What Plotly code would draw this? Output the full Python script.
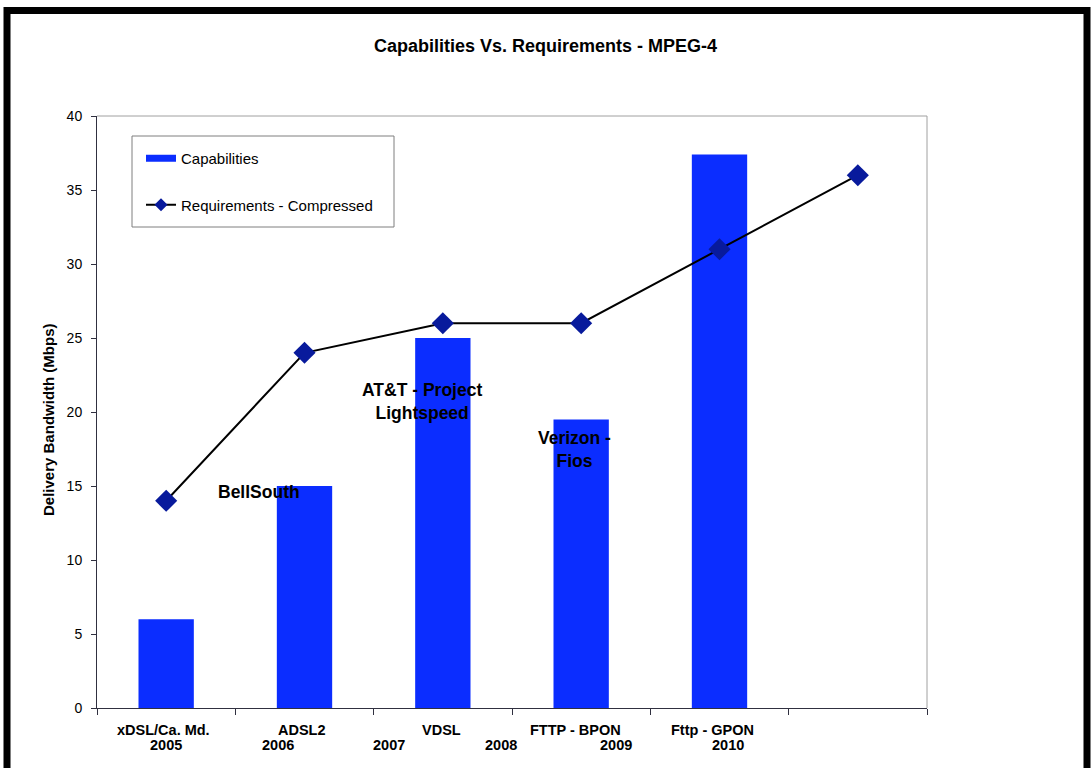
import plotly.graph_objects as go

# Technology generations along the x axis (index 5 is an empty slot at the end)
tech_names = ["xDSL/Ca. Md.", "ADSL2", "VDSL", "FTTP - BPON", "Fttp - GPON"]
years = ["2005", "2006", "2007", "2008", "2009", "2010"]

# Series values (Mbps)
capabilities = [6, 15, 25, 19.5, 37.4]
requirements = [14, 24, 26, 26, 31, 36]

# Provider callouts
providers = ["BellSouth", "AT&T - Project<br>Lightspeed", "Verizon -<br>Fios"]

y_ticks = [0, 5, 10, 15, 20, 25, 30, 35, 40]

BAR_BLUE = "#0b2dff"
NAVY = "#081a9c"
FONT = "Liberation Sans, Arial, sans-serif"

W, H = 1091, 768
ML, MR, MT, MB = 97, 164, 116, 60
PW, PH = W - ML - MR, H - MT - MB


def px_x(p):
    return (p - ML) / PW


def px_y(q):
    return (H - MB - q) / PH


fig = go.Figure()

fig.add_trace(go.Bar(
    x=list(range(len(capabilities))), y=capabilities,
    width=0.4, marker=dict(color=BAR_BLUE, line=dict(width=0)),
    name="Capabilities", showlegend=False,
))
fig.add_trace(go.Scatter(
    x=list(range(len(requirements))), y=requirements,
    mode="lines+markers", name="Requirements - Compressed", showlegend=False,
    line=dict(color="black", width=2),
    marker=dict(symbol="diamond", size=17, color=NAVY),
))

# Legend entries (wide swatch for the bars, small diamond for the line)
fig.add_trace(go.Scatter(
    x=[None], y=[None], mode="lines", name="Capabilities", legendgroup="a",
    line=dict(color=BAR_BLUE, width=7),
))
fig.add_trace(go.Scatter(
    x=[None], y=[None], mode="lines+markers", name="Requirements - Compressed",
    legendgroup="b", line=dict(color="black", width=2),
    marker=dict(symbol="diamond", size=10, color=NAVY),
))

base = dict(family=FONT, color="black")
annotations = []

# Two-row category labels below the axis
name_pos = [-0.02, 0.98, 1.99, 2.96, 3.95]
year_pos = [0.0, 0.81, 1.61, 2.42, 3.25, 4.06]
for t, xv in zip(tech_names, name_pos):
    annotations.append(dict(x=xv, y=0, xref="x", yref="y", text="<b>%s</b>" % t,
                            showarrow=False, yanchor="middle", yshift=-22,
                            font=dict(size=14.5, **base)))
for t, xv in zip(years, year_pos):
    annotations.append(dict(x=xv, y=0, xref="x", yref="y", text="<b>%s</b>" % t,
                            showarrow=False, yanchor="middle", yshift=-37,
                            font=dict(size=14.5, **base)))

prov_pos = [(0.67, 14.6), (1.85, 20.7), (2.95, 17.5)]
for t, (xv, yv) in zip(providers, prov_pos):
    annotations.append(dict(x=xv, y=yv, xref="x", yref="y", text="<b>%s</b>" % t,
                            showarrow=False, font=dict(size=17.5, **base)))

# Chart title
annotations.append(dict(x=px_x(545), y=px_y(46), xref="paper", yref="paper",
                        xanchor="center", yanchor="middle",
                        text="<b>Capabilities Vs. Requirements - MPEG-4</b>",
                        showarrow=False, font=dict(size=18, **base)))

# Y axis title
annotations.append(dict(x=px_x(48), y=px_y(420), xref="paper", yref="paper",
                        xanchor="center", yanchor="middle",
                        text="<b>Delivery Bandwidth (Mbps)</b>", textangle=-90,
                        showarrow=False, font=dict(size=15, **base)))

shapes = [
    # outer frame of the chart sheet
    dict(type="rect", xref="paper", yref="paper",
         x0=px_x(7), x1=px_x(1087), y0=px_y(800), y1=px_y(10.5),
         line=dict(color="black", width=7)),
    # legend frame
    dict(type="rect", xref="paper", yref="paper",
         x0=px_x(132), x1=px_x(394), y0=px_y(227), y1=px_y(136),
         line=dict(color="#7f7f7f", width=1), fillcolor="white", layer="below"),
    # plot-area frame (top and right)
    dict(type="line", xref="paper", yref="paper", x0=0, x1=1, y0=1, y1=1,
         line=dict(color="#a0a0a0", width=1)),
    dict(type="line", xref="paper", yref="paper", x0=1, x1=1, y0=0, y1=1,
         line=dict(color="#a0a0a0", width=1)),
]

fig.update_layout(
    width=W, height=H,
    margin=dict(l=ML, r=MR, t=MT, b=MB),
    paper_bgcolor="white", plot_bgcolor="white",
    font=dict(family=FONT, color="black", size=12),
    showlegend=True,
    legend=dict(x=px_x(141), y=px_y(142), xanchor="left", yanchor="top",
                bgcolor="rgba(0,0,0,0)", borderwidth=0, tracegroupgap=24,
                font=dict(size=15, color="black", family=FONT)),
    annotations=annotations,
    shapes=shapes,
    xaxis=dict(range=[-0.5, 5.5], tickvals=[i - 0.5 for i in range(7)],
               showticklabels=False, ticks="outside", ticklen=6,
               tickcolor="#303040", showline=True, linecolor="#303040",
               linewidth=1, showgrid=False, zeroline=False),
    yaxis=dict(range=[0, 40], tickvals=y_ticks, ticks="outside", ticklen=5,
               tickcolor="#303040", showline=True, linecolor="#303040",
               linewidth=1, showgrid=False, zeroline=False,
               ticklabelstandoff=6,
               tickfont=dict(size=14, color="black", family=FONT)),
)

fig.write_html("out.html")
